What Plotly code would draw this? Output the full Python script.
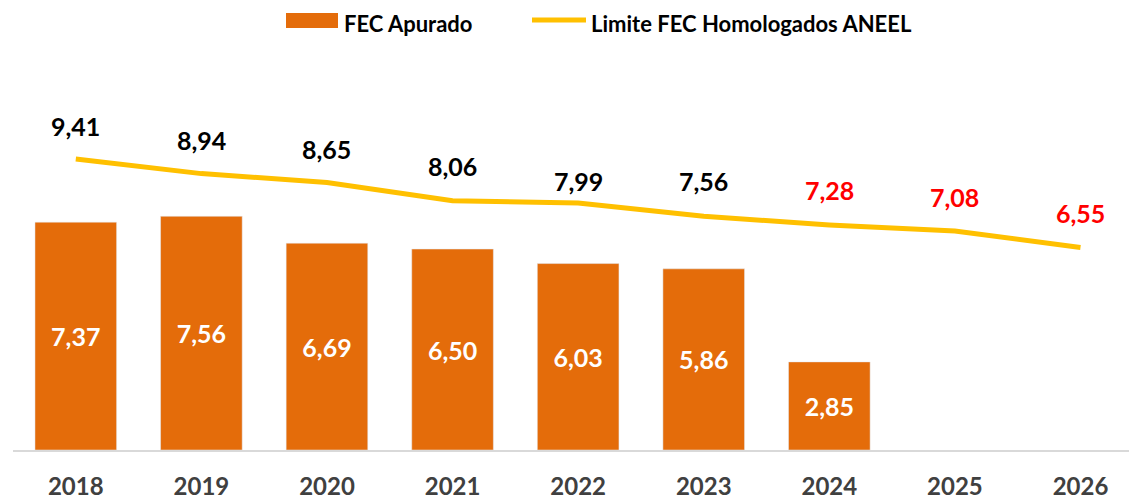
import plotly.graph_objects as go

# Chart data
anos = ['2018', '2019', '2020', '2021', '2022', '2023', '2024', '2025', '2026']
fec_apurado = [7.37, 7.56, 6.69, 6.50, 6.03, 5.86, 2.85]
limite_aneel = [9.41, 8.94, 8.65, 8.06, 7.99, 7.56, 7.28, 7.08, 6.55]
limite_cores = ['black'] * 6 + ['#FF0000'] * 3
limite_shift = [33, 34, 34, 35, 22, 35, 35, 34, 35]

FONT = 'Lato'
LARANJA = '#E46C0A'
AMARELO = '#FFC000'

# Page has an 8px body margin, so the figure is a bit smaller than the window
W, H = 1129, 493
ML, MR, MT, MB = 5, 0, 71, 51
PW, PH = W - ML - MR, H - MT - MB


def fmt(v):
    return f'{v:.2f}'.replace('.', ',')


def px(x):
    # figure pixel -> paper x
    return (x - ML) / PW


def py(y):
    # figure pixel -> paper y
    return (H - MB - y) / PH


fig = go.Figure()

# Bars with the measured FEC
fig.add_trace(go.Bar(
    x=anos[:len(fec_apurado)], y=fec_apurado, name='FEC Apurado',
    marker_color=LARANJA, width=0.65,
    text=[fmt(v) for v in fec_apurado], textposition='inside',
    insidetextanchor='middle', textangle=0,
    textfont=dict(family=FONT, size=25, color='white', weight='bold'),
))

# ANEEL limit line
fig.add_trace(go.Scatter(
    x=anos, y=limite_aneel, name='Limite FEC Homologados ANEEL',
    mode='lines', line=dict(color=AMARELO, width=5),
))

# Labels above the line points (x by category index)
for i, (v, cor, dy) in enumerate(zip(limite_aneel, limite_cores, limite_shift)):
    fig.add_annotation(
        x=i, y=v, text=fmt(v), showarrow=False, yshift=dy,
        font=dict(family=FONT, size=25, color=cor, weight='bold'),
    )

# Legend drawn by hand (wide swatch like the original)
fig.add_shape(type='rect', xref='paper', yref='paper',
              x0=px(278), x1=px(330), y0=py(20), y1=py(5),
              fillcolor=LARANJA, line_width=0)
fig.add_shape(type='line', xref='paper', yref='paper',
              x0=px(524), x1=px(578), y0=py(12), y1=py(12),
              line=dict(color=AMARELO, width=5))
leg_font = dict(family=FONT, size=22, color='black', weight='bold')
fig.add_annotation(xref='paper', yref='paper', x=px(335), y=py(15),
                   xanchor='left', yanchor='middle', showarrow=False,
                   text='FEC Apurado', font=leg_font, borderpad=0)
fig.add_annotation(xref='paper', yref='paper', x=px(582), y=py(15),
                   xanchor='left', yanchor='middle', showarrow=False,
                   text='Limite FEC Homologados ANEEL', font=leg_font, borderpad=0)

fig.update_layout(
    width=W, height=H,
    margin=dict(l=ML, r=MR, t=MT, b=MB),
    plot_bgcolor='white', paper_bgcolor='white',
    font=dict(family=FONT, weight='bold'),
    showlegend=False,
    xaxis=dict(
        type='category', range=[-0.5, 8.45], showgrid=False,
        showline=True, linecolor='#D9D9D9', linewidth=2,
        tickfont=dict(family=FONT, size=24, color='#404040', weight='bold'),
        ticks='', ticklabelstandoff=14,
    ),
    yaxis=dict(range=[0, 12], visible=False, showgrid=False),
)

fig.write_html('out.html')
